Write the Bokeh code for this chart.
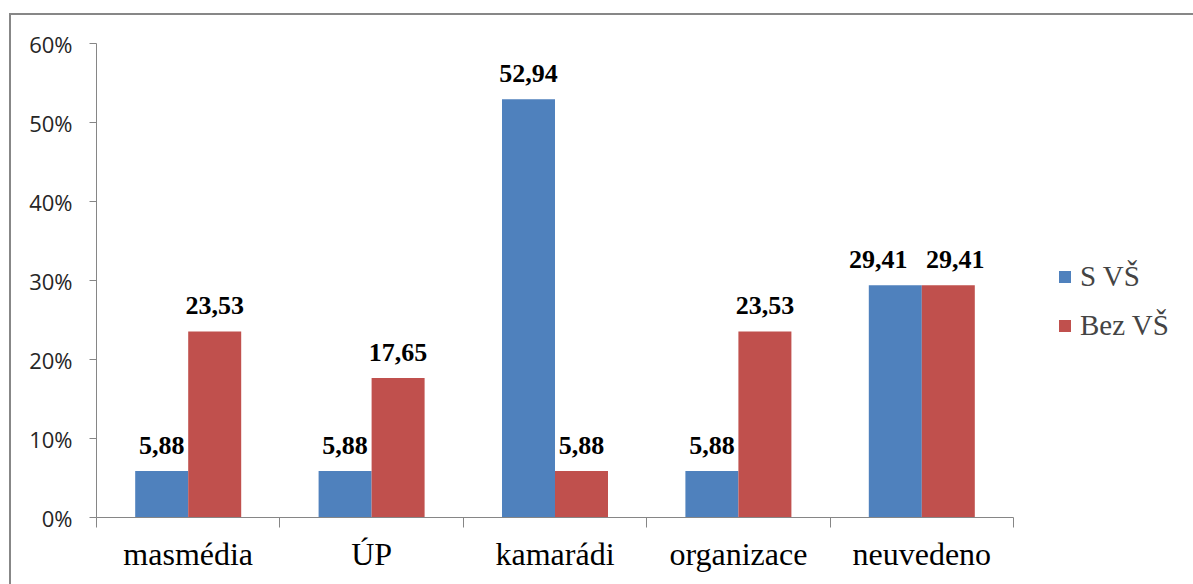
from bokeh.plotting import figure
from bokeh.models import Range1d, FixedTicker, ColumnDataSource, Legend, LegendItem
from bokeh.core.properties import value
from bokeh.embed import file_html
from bokeh.resources import INLINE

categories = ["masmédia", "ÚP", "kamarádi", "organizace", "neuvedeno"]
series_names = ["S VŠ", "Bez VŠ"]
s_vs = [5.88, 5.88, 52.94, 5.88, 29.41]
bez_vs = [23.53, 17.65, 5.88, 23.53, 29.41]
y_ticks = [0, 10, 20, 30, 40, 50, 60]
y_tick_labels = ["0%", "10%", "20%", "30%", "40%", "50%", "60%"]

BLUE = "#4F81BD"
RED = "#C0504D"
AXIS = "#868686"

n = len(categories)
FW = 1097          # frame width incl. legend area
CAT_PX = 917 / n   # pixel width of one category slot
x_end = FW / CAT_PX

p = figure(frame_width=FW, frame_height=474, output_backend="svg", toolbar_location=None,
           x_range=Range1d(0, x_end), y_range=Range1d(0, 60))
p.min_border_left = 85
p.min_border_right = 0
p.min_border_top = 28
p.min_border_bottom = 67
p.outline_line_color = None
p.xgrid.visible = False
p.ygrid.visible = False
p.styles = {"border-left": "2px solid #878787", "border-top": "2px solid #878787",
            "margin-top": "13px", "margin-left": "9px"}

bw = 0.289
off = 0.1445
idx = list(range(n))
src = ColumnDataSource(dict(
    x_blue=[i + 0.5 - off for i in idx],
    x_red=[i + 0.5 + off for i in idx],
    s=s_vs, b=bez_vs,
    s_lab=[f"{v:.2f}".replace(".", ",") for v in s_vs],
    b_lab=[f"{v:.2f}".replace(".", ",") for v in bez_vs],
))
r1 = p.vbar(x="x_blue", top="s", width=bw, source=src, fill_color=BLUE, line_color=None)
r2 = p.vbar(x="x_red", top="b", width=bw, source=src, fill_color=RED, line_color=None)

LBL = dict(text_align="center", text_baseline="alphabetic", y_offset=-26,
           text_font=value("Liberation Serif"), text_font_style="bold",
           text_font_size="26px", text_color="black")

# data labels (last category nudged apart as in the original)
src_l1 = ColumnDataSource(dict(x=src.data["x_blue"][:n-1], y=s_vs[:n-1], t=src.data["s_lab"][:n-1]))
src_l2 = ColumnDataSource(dict(x=src.data["x_red"][:n-1], y=bez_vs[:n-1], t=src.data["b_lab"][:n-1]))
for s_ in (src_l1, src_l2):
    p.text(x="x", y="y", text="t", source=s_, **LBL)
p.text(x=[src.data["x_blue"][n-1]], y=[s_vs[n-1]], text=[src.data["s_lab"][n-1]],
       x_offset=-17, **LBL)
p.text(x=[src.data["x_red"][n-1]], y=[bez_vs[n-1]], text=[src.data["b_lab"][n-1]],
       x_offset=7, **LBL)

# y axis
ya = p.yaxis[0]
ya.ticker = FixedTicker(ticks=y_ticks)
ya.major_label_overrides = {t: l for t, l in zip(y_ticks, y_tick_labels)}
ya.axis_line_color = AXIS
ya.major_tick_line_color = AXIS
ya.major_tick_out = 7
ya.major_tick_in = 0
ya.minor_tick_line_color = None
ya.major_label_standoff = 17
ya.major_label_text_font = "Open Sans"
ya.major_label_text_font_size = "22px"
ya.major_label_text_color = "#262626"

# x axis
xa = p.xaxis[0]
xa.bounds = (0, n)
xa.ticker = FixedTicker(ticks=[i + 0.5 for i in idx], minor_ticks=list(range(n + 1)))
xa.major_label_overrides = {i + 0.5: c for i, c in zip(idx, categories)}
xa.axis_line_color = AXIS
xa.major_tick_line_color = None
xa.major_tick_out = 0
xa.major_tick_in = 0
xa.minor_tick_line_color = AXIS
xa.minor_tick_out = 10
xa.minor_tick_in = 0
xa.major_label_standoff = 8
xa.major_label_text_font = "Liberation Serif"
xa.major_label_text_font_size = "32px"
xa.major_label_text_color = "black"

legend = Legend(items=[LegendItem(label=series_names[0], renderers=[r1]),
                       LegendItem(label=series_names[1], renderers=[r2])],
                location=(961, 175), border_line_color=None, background_fill_alpha=0,
                glyph_width=15, glyph_height=15, label_text_font="Liberation Serif",
                label_text_font_size="29px", spacing=16, label_standoff=8, padding=0,
                margin=0)
p.add_layout(legend)

open("out.html", "w").write(file_html(p, INLINE))
